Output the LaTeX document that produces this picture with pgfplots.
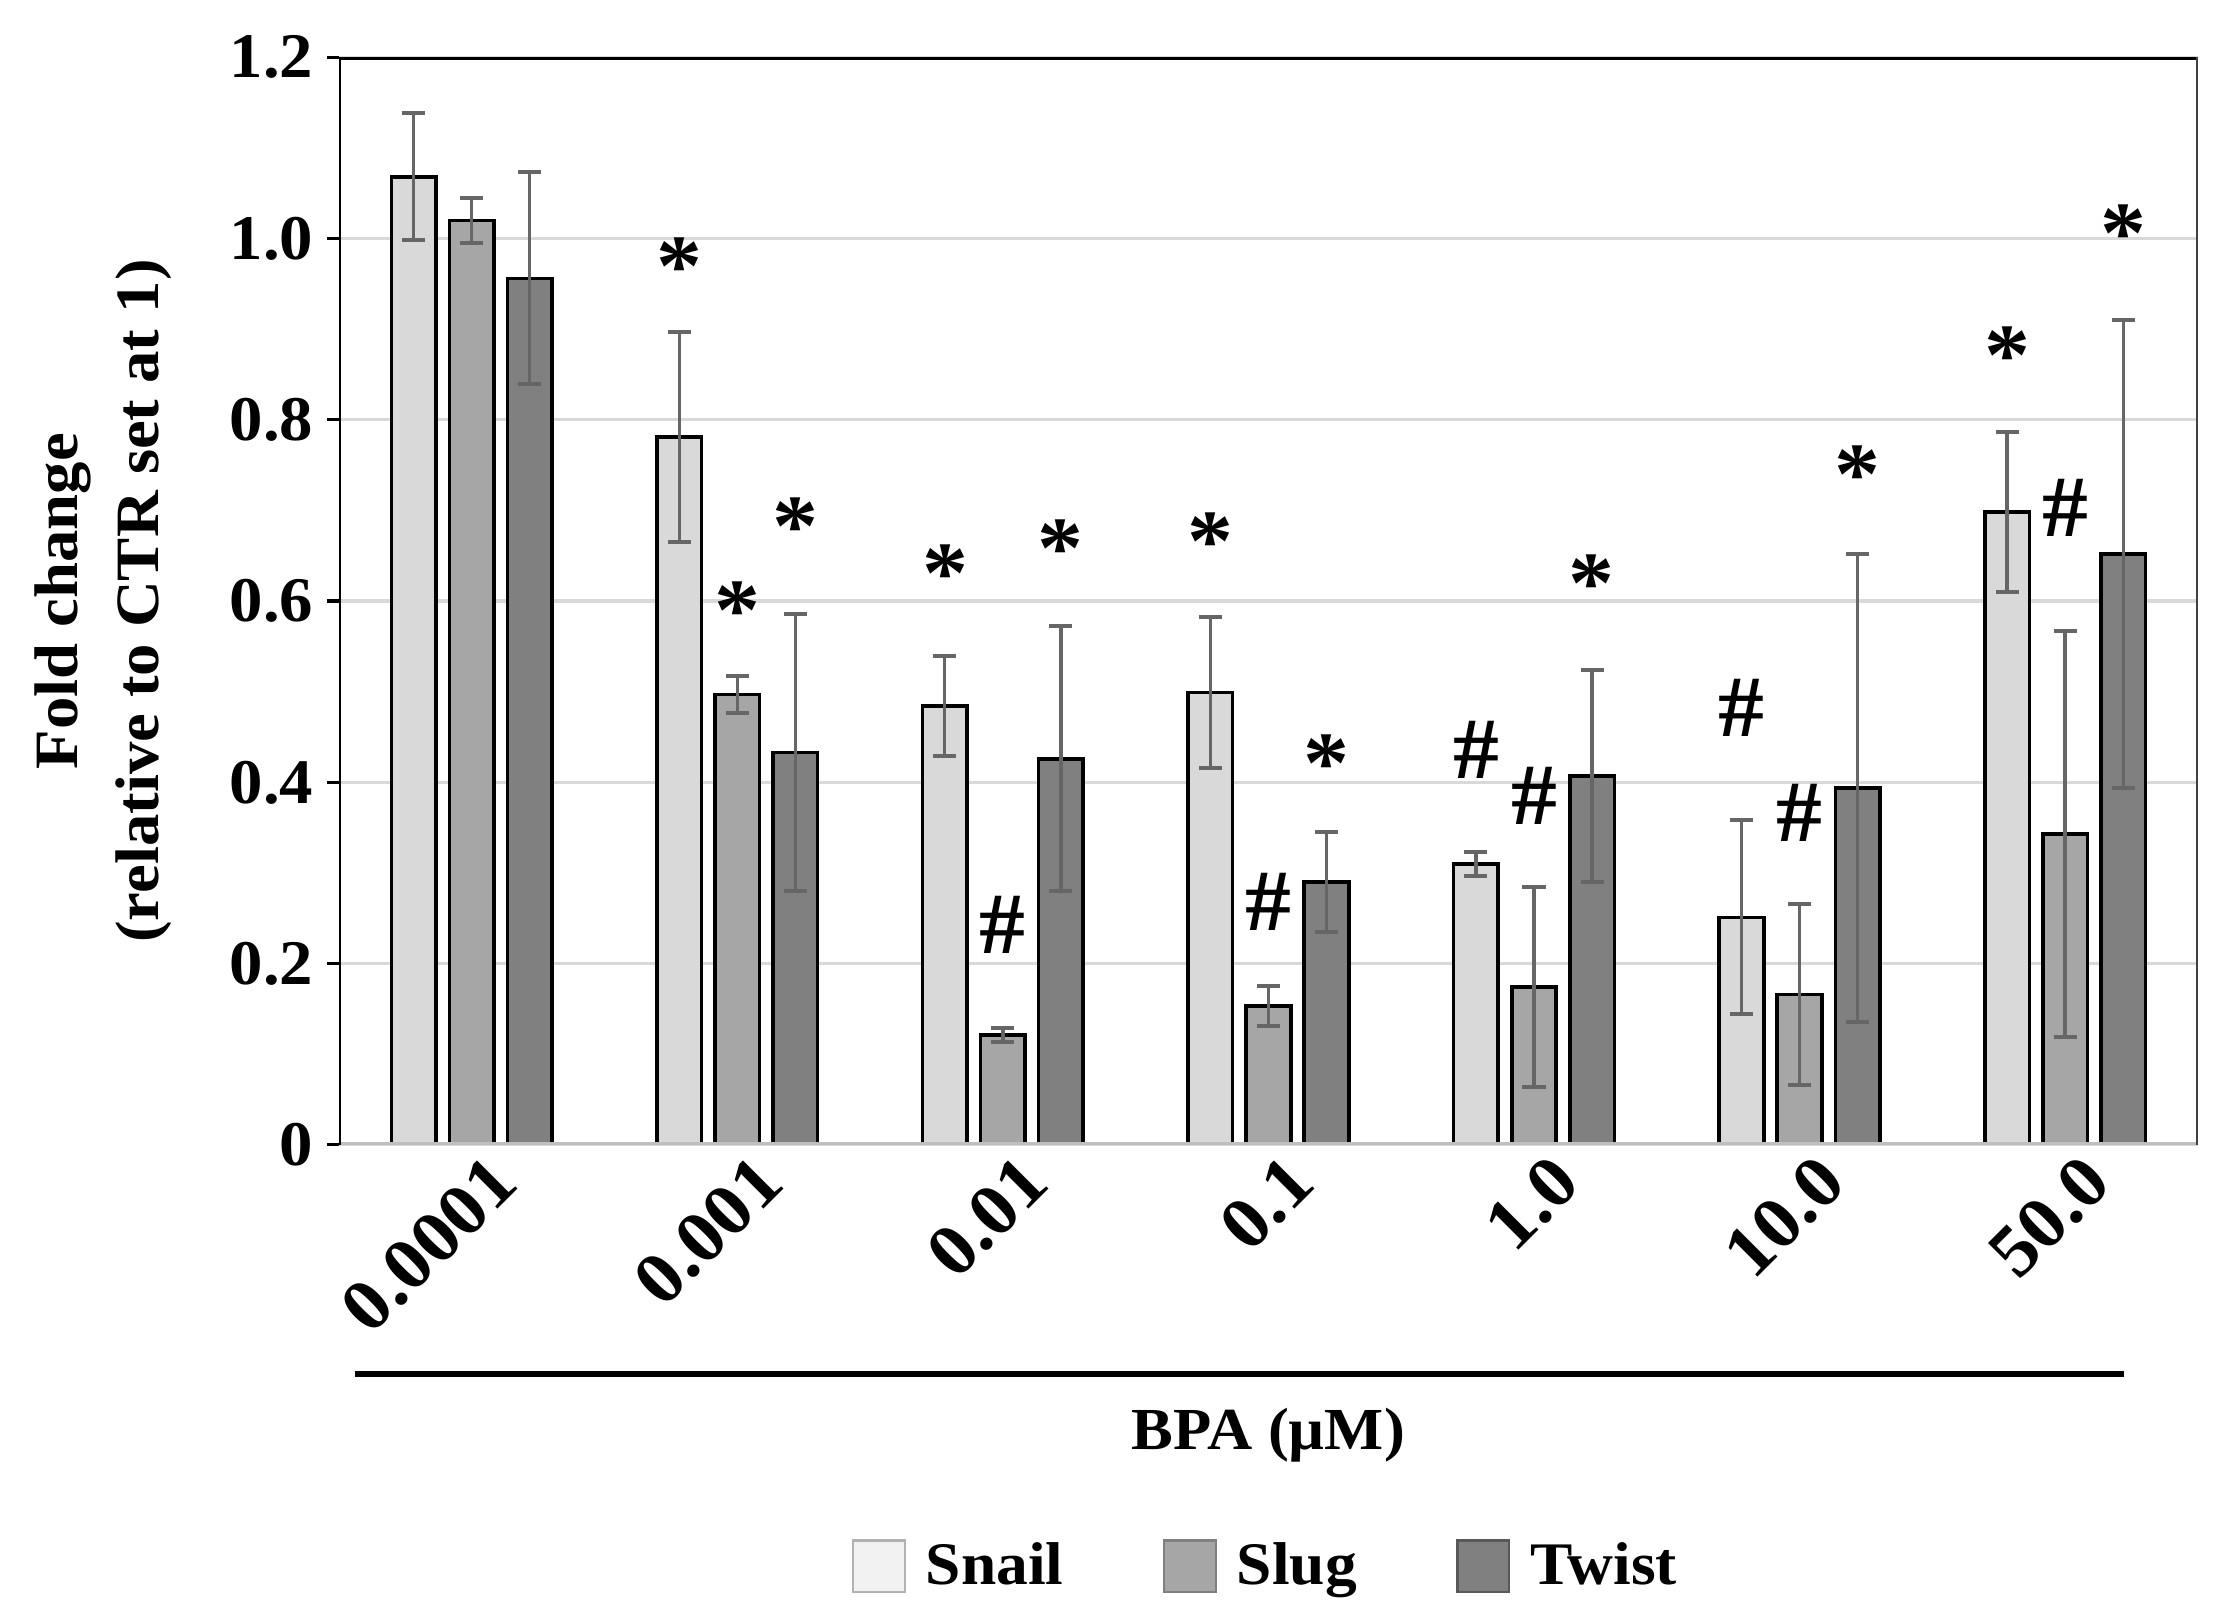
\documentclass[border=0pt]{standalone}
\usepackage{fontspec}
\setmainfont{Liberation Serif}[FakeStretch=1.05]
\usepackage{pgfplots}
\pgfplotsset{compat=1.18}

\definecolor{snail}{HTML}{D9D9D9}
\definecolor{slug}{HTML}{A6A6A6}
\definecolor{twist}{HTML}{808080}
\definecolor{errc}{HTML}{666666}

\newcommand{\tickfont}{\bfseries\fontsize{16}{16}\selectfont}
\newcommand{\markfont}{\bfseries\fontsize{22}{22}\selectfont}

\begin{document}
\begin{tikzpicture}
\begin{axis}[
    at={(0,0)}, anchor=south west,
    scale only axis,
    width=467.6pt, height=273.6pt,
    ybar, bar width=11.2pt,
    xmin=-0.5, xmax=6.5,
    ymin=0, ymax=1.2,
    xtick={0,...,6},
    xticklabels={0.0001,0.001,0.01,0.1,1.0,10.0,50.0},
    xtick style={draw=none},
    x tick label style={rotate=45, anchor=east, xshift=7pt, yshift=-8pt,
        font=\bfseries\fontsize{18.5}{18.5}\selectfont},
    ytick={0,0.2,0.4,0.6,0.8,1.0,1.2},
    yticklabels={0,0.2,0.4,0.6,0.8,1.0,1.2},
    ytick pos=left,
    y tick label style={font=\tickfont},
    /pgf/number format/assume math mode=true,
    tick align=outside,
    major tick length=3pt,
    ytick style={black, line width=0.8pt},
    ymajorgrids,
    major grid style={draw=black!15, line width=0.8pt},
    axis line style={draw=none},
    error bars/error bar style={draw=errc, line width=0.8pt},
    error bars/error mark options={rotate=90, mark size=2.9pt, line width=1pt, errc},
    legend columns=3,
    legend style={draw=none, at={(0.5,-106pt)}, anchor=center,
        font=\bfseries\fontsize{15.2}{15.2}\selectfont,
        /tikz/every odd column/.append style={column sep=3pt},
        /tikz/every even column/.append style={column sep=23pt}},
    legend image code/.code={\draw[#1, line width=0.6pt] (0pt,-6.5pt) rectangle (13pt,6.5pt);},
]
\addplot[fill=snail, draw=black, line width=0.9pt, bar shift=-14.6pt,
    legend image post style={fill=black!5, draw=black!30},
    error bars/.cd, y dir=both, y explicit]
  coordinates {
    (0,1.068) +- (0,0.070)
    (1,0.781) +- (0,0.116)
    (2,0.484) +- (0,0.055)
    (3,0.499) +- (0,0.083)
    (4,0.310) +- (0,0.013)
    (5,0.251) +- (0,0.107)
    (6,0.698) +- (0,0.088)
  };
\addlegendentry{Snail}
\addplot[fill=slug, draw=black, line width=0.9pt, bar shift=0pt,
    legend image post style={draw=black!50},
    error bars/.cd, y dir=both, y explicit]
  coordinates {
    (0,1.020) +- (0,0.025)
    (1,0.497) +- (0,0.020)
    (2,0.121) +- (0,0.008)
    (3,0.153) +- (0,0.022)
    (4,0.174) +- (0,0.110)
    (5,0.166) +- (0,0.100)
    (6,0.343) +- (0,0.224)
  };
\addlegendentry{Slug}
\addplot[fill=twist, draw=black, line width=0.9pt, bar shift=14.6pt,
    legend image post style={draw=black!65},
    error bars/.cd, y dir=both, y explicit]
  coordinates {
    (0,0.956) +- (0,0.117)
    (1,0.433) +- (0,0.153)
    (2,0.426) +- (0,0.146)
    (3,0.290) +- (0,0.055)
    (4,0.407) +- (0,0.117)
    (5,0.394) +- (0,0.258)
    (6,0.652) +- (0,0.258)
  };
\addlegendentry{Twist}

% frame
\draw[black!25, line width=1.2pt] (rel axis cs:0,0) -- (rel axis cs:1,0);
\draw[black, line width=0.9pt] (rel axis cs:0,0) -- (rel axis cs:0,1);
\draw[black, line width=1.2pt] (rel axis cs:0,1) -- (rel axis cs:1,1);
\draw[black!75, line width=0.7pt] (rel axis cs:1,0) -- (rel axis cs:1,1);

% significance marks
\tikzset{star/.style={font=\markfont, yshift=-3pt, inner sep=0pt}, hash/.style={font=\markfont, inner sep=0pt}}
\node[star] at (axis cs:0.782,0.982) {*};
\node[star] at (axis cs:1.000,0.603) {*};
\node[star] at (axis cs:1.218,0.695) {*};
\node[star] at (axis cs:1.782,0.643) {*};
\node[hash] at (axis cs:2.000,0.243) {\#};
\node[star] at (axis cs:2.218,0.671) {*};
\node[star] at (axis cs:2.782,0.679) {*};
\node[hash] at (axis cs:3.000,0.268) {\#};
\node[star] at (axis cs:3.218,0.434) {*};
\node[hash] at (axis cs:3.782,0.436) {\#};
\node[hash] at (axis cs:4.000,0.385) {\#};
\node[star] at (axis cs:4.218,0.632) {*};
\node[hash] at (axis cs:4.782,0.482) {\#};
\node[hash] at (axis cs:5.000,0.366) {\#};
\node[star] at (axis cs:5.218,0.753) {*};
\node[star] at (axis cs:5.782,0.884) {*};
\node[hash] at (axis cs:6.000,0.703) {\#};
\node[star] at (axis cs:6.218,1.018) {*};
\end{axis}

% y label
\node[rotate=90, align=center, font=\bfseries\fontsize{15.5}{20.5}\selectfont]
  at (-59.4pt,136.8pt) {Fold change\\(relative to CTR set at 1)};
% bracket line and x label
\draw[black, line width=1.5pt] (4pt,-57.6pt) -- (449pt,-57.6pt);
\node[font=\bfseries\fontsize{15}{15}\selectfont] at (233.8pt,-73pt) {BPA (µM)};

\path[use as bounding box] (-85.3pt,-119.5pt) rectangle (476.2pt,288pt);
\end{tikzpicture}
\end{document}
